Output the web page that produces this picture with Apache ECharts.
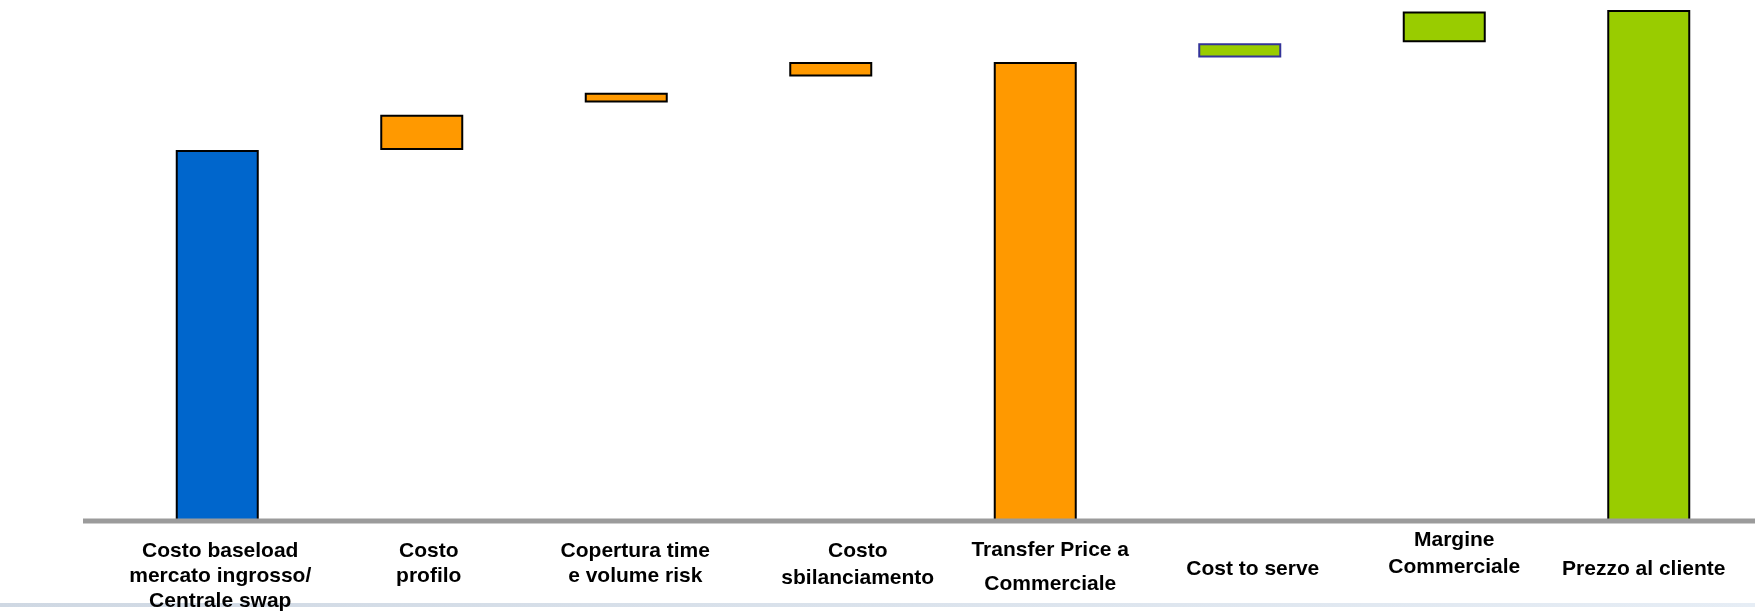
<!DOCTYPE html>
<html>
<head>
<meta charset="utf-8">
<script src="https://cdn.jsdelivr.net/npm/echarts@6/dist/echarts.min.js"></script>
<style>
html,body{margin:0;padding:0;background:#fff;}
#chart{width:1755px;height:614px;}
</style>
</head>
<body>
<div id="chart"></div>
<script>
// ---- data ----
const categories = [
  "Costo baseload\nmercato ingrosso/\nCentrale swap",
  "Costo\nprofilo",
  "Copertura time\ne volume risk",
  "Costo\nsbilanciamento",
  "Transfer Price a\nCommerciale",
  "Cost to serve",
  "Margine\nCommerciale",
  "Prezzo al cliente"
];
// floating bars: bottom and top of each bar (arbitrary units, final price = 100)
const barLow  = [0,    72.6, 81.9, 87.0, 0,    90.7, 93.7, 0];
const barHigh = [72.6, 79.5, 83.8, 89.8, 89.8, 93.5, 99.7, 100];

// ---- styles / layout ----
const fillColors   = ["#0066CC","#FF9900","#FF9900","#FF9900","#FF9900","#99CC00","#99CC00","#99CC00"];
const borderColors = ["#000","#000","#000","#000","#000","#333399","#000","#000"];
const labelDx = [3, 7, 9, 27, 15, 13, 10, -5];
const labelDy = [11, 11, 11, 11, 10, 29, 0, 29];
const labelLineHeights = [[25,25,25],[25,25],[25,25],[25,28],[25,43],[25],[25,29],[25]];

const chart = echarts.init(document.getElementById('chart'), null, {renderer:'canvas'});

const rich = {};
categories.forEach((c, i) => {
  rich['sp' + i] = {fontSize: 1, lineHeight: labelDy[i]};
  labelLineHeights[i].forEach((lh, j) => {
    const dx = labelDx[i];
    rich['k' + i + '_' + j] = {
      fontSize: 21, fontWeight: 'bold', color: '#000',
      fontFamily: 'Arial, "Liberation Sans", sans-serif',
      lineHeight: lh,
      padding: dx >= 0 ? [0, 0, 0, 2 * dx] : [0, -2 * dx, 0, 0]
    };
  });
});

const deltas = barHigh.map((h, i) => +(h - barLow[i]).toFixed(2));

chart.setOption({
  animation: false,
  backgroundColor: '#fff',
  grid: {left: 115, width: 1636, top: 10, bottom: 93},
  xAxis: {
    type: 'category',
    data: categories,
    axisLine: {show: false},
    axisTick: {show: false},
    axisLabel: {
      interval: 0,
      margin: 7,
      formatter: function (value, idx) {
        const lines = value.split('\n');
        const parts = [];
        if (labelDy[idx] > 0) parts.push('{sp' + idx + '| }');
        lines.forEach((l, j) => parts.push('{k' + idx + '_' + j + '|' + l + '}'));
        return parts.join('\n');
      },
      rich: rich
    }
  },
  yAxis: {
    type: 'value', min: 0, max: 100, show: false,
    splitLine: {show: false}
  },
  series: [
    {
      type: 'bar', stack: 'w', barWidth: 83, silent: true,
      itemStyle: {color: 'rgba(0,0,0,0)', borderWidth: 0},
      data: barLow
    },
    {
      type: 'bar', stack: 'w', barWidth: 83,
      data: deltas.map((v, i) => ({
        value: v,
        itemStyle: {color: fillColors[i], borderColor: borderColors[i], borderWidth: 2}
      }))
    }
  ]
});

const y0 = chart.convertToPixel({yAxisIndex: 0}, 0);
chart.setOption({
  graphic: [
    {
      type: 'rect', z: 100,
      shape: {x: 83, y: y0 - 2.5, width: 1755 - 83, height: 5},
      style: {fill: '#9b9b9b'}
    },
    {
      type: 'rect', z: -10,
      shape: {x: 0, y: 603, width: 1755, height: 4},
      style: {
        fill: new echarts.graphic.LinearGradient(0, 0, 1, 0, [
          {offset: 0, color: '#cfd8e3'},
          {offset: 1, color: '#e6edf5'}
        ])
      }
    }
  ]
});
</script>
</body>
</html>
